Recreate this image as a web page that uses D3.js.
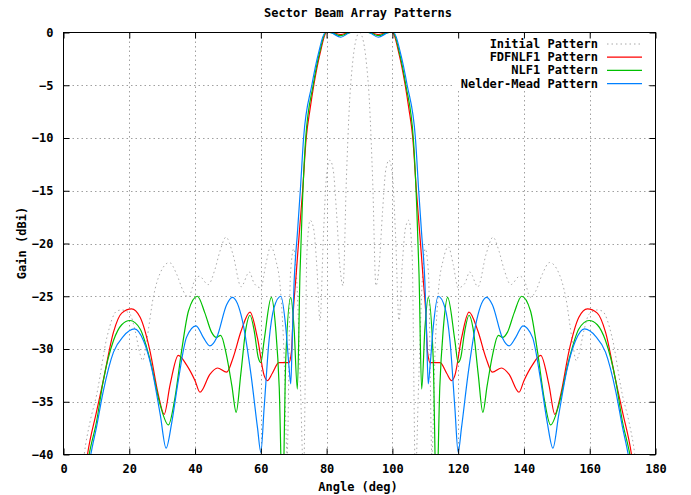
<!DOCTYPE html>
<html>
<head>
<meta charset="utf-8">
<script src="https://cdn.jsdelivr.net/npm/d3@7"></script>
<style>
  body { margin: 0; background: #fff; }
  text { font-family: "DejaVu Sans Mono", "Liberation Mono", monospace; font-weight: bold; font-size: 12px; fill: #000; }
</style>
</head>
<body>
<div id="chart"></div>
<script>
// angles (deg) and gains (dBi)
var initialAngle = [4, 6.3, 8, 10.1, 13.2, 16.2, 17.7, 20.2, 21.8, 23.3, 24.1, 25.3, 27.3, 29.4, 32.2, 34.4, 36.4, 38, 40, 41.3,
  44, 46, 47.6, 49.4, 51.5, 54, 56.5, 58, 60, 61.5, 63, 64.5, 66, 67, 68, 69, 70, 71, 72, 73,
  74, 75, 76, 77, 78, 79, 80, 81, 82, 83, 84, 85, 86, 87, 88, 89, 90,
  91, 92, 93, 94, 95, 96, 97, 98, 99, 100, 101, 102, 103, 104, 105, 106, 107, 108, 109, 110,
  111, 112, 113, 114, 115.5, 117, 118.5, 120, 122, 123.5, 126, 128.5, 130.6, 132.4, 134, 136, 138.7, 140, 142, 143.6,
  145.6, 147.8, 150.6, 152.7, 154.7, 155.9, 156.7, 158.2, 159.8, 162.3, 163.8, 166.8, 169.9, 172, 173.7, 176];
var initialGain = [-48, -40, -37, -34.3, -28.9, -26.4, -26.3, -26.7, -28.3, -30.5, -31.1, -29.2, -25.1, -22.8, -21.8, -22.9, -24.5, -25.1, -23.4, -23.1,
  -23.9, -22.5, -20.7, -19.4, -21, -24.1, -22.7, -23.8, -24.2, -22, -20.3, -21.5, -24.5, -30, -40, -23, -20.5, -24, -33, -42,
  -21, -17.8, -18.5, -22, -27.3, -19.5, -13.5, -12.1, -13, -17, -22, -24, -14, -6.5, -2.6, -0.6, 0,
  -0.6, -2.6, -6.5, -14, -24, -22, -17, -13, -12.1, -13.5, -19.5, -27.3, -22, -18.5, -17.8, -21, -42, -33, -24, -20.5,
  -23, -40, -30, -24.5, -21.5, -20.3, -22, -24.2, -23.8, -22.7, -24.1, -21, -19.4, -20.7, -22.5, -23.9, -23.1, -23.4, -25.1, -24.5,
  -22.9, -21.8, -22.8, -25.1, -29.2, -31.1, -30.5, -28.3, -26.7, -26.3, -26.4, -28.9, -34.3, -37, -40, -48];

var fdfAngle = [5, 7.3, 10, 12.1, 15.2, 17.7, 20.7, 23.3, 26.3, 28.8, 30.6, 32.4, 34.9, 37.4, 40, 41.5, 44.5, 46.8, 49.6, 51.6,
  54, 56.7, 59, 61, 62, 63.5, 65.5, 68.5, 69.3, 69.9, 70.6, 71.3, 72, 72.7, 73.8, 75, 76.1, 78, 80, 81.5,
  84.3, 87, 90, 93, 95.7, 98.5, 100, 102, 103.9, 105, 106.2, 107.3, 108, 108.7, 109.4, 110.1, 110.7, 111.5, 114.5, 116.5,
  118, 119, 121, 123.3, 126, 128.4, 130.4, 133.2, 135.5, 138.5, 140, 142.6, 145.1, 147.6, 149.4, 151.2, 153.7, 156.7, 159.3, 162.3,
  164.8, 167.9, 170, 172.7, 175];
var fdfGain = [-46, -40, -36, -33, -28.4, -26.6, -26.2, -27, -30.2, -34.3, -36.2, -33.4, -30.6, -31.5, -33, -34.1, -32.4, -31.8, -32.2, -30.8,
  -28.3, -26.5, -29, -32.5, -33, -32.3, -31.3, -31.3, -30.3, -26.3, -23.5, -20.6, -17.8, -15, -10, -7.2, -5, -2, 0, 0,
  -0.2, 0, 0, 0, -0.2, 0, 0, -2, -5, -7.2, -10, -15, -17.8, -20.6, -23.5, -26.3, -30.3, -31.3, -31.3, -32.3,
  -33, -32.5, -29, -26.5, -28.3, -30.8, -32.2, -31.8, -32.4, -34.1, -33, -31.5, -30.6, -33.4, -36.2, -34.3, -30.2, -27, -26.2, -26.6,
  -28.4, -33, -36, -40, -46];

var nlfAngle = [5, 7.8, 10.1, 12.1, 15.2, 17.7, 20.2, 23.3, 26.3, 29.4, 31.9, 33.9, 35.9, 38, 40.7, 43, 45, 46.5, 47.8, 49.5,
  51.2, 52.5, 53.9, 55.5, 56.7, 58, 59.2, 60, 61, 63.2, 64.5, 65.6, 66.6, 67.6, 69.1, 70.1, 71.1, 71.9, 72.6, 73.6,
  75.9, 77.8, 79.8, 81, 84.3, 87.3, 90,
  92.7, 95.7, 99, 100.2, 102.2, 104.1, 106.4, 107.4, 108.1, 108.9, 109.9, 110.9, 112.4, 113.4, 114.4, 115.5, 116.8, 119, 120, 120.8,
  122, 123.3, 124.5, 126.1, 127.5, 128.8, 130.5, 132.2, 133.5, 135, 137, 139.3, 142, 144.1, 146.1, 148.1, 150.6, 153.7, 156.7, 159.8,
  162.3, 164.8, 167.9, 169.9, 172.2, 175];
var nlfGain = [-46, -40, -36.8, -33, -29.2, -27.7, -27.3, -28.1, -31, -35.3, -37.2, -34.6, -30.2, -26.4, -25, -26.6, -28.4, -28.9, -28.7, -30.5,
  -33.5, -36, -32.4, -28, -26.8, -28.3, -30.8, -31.3, -29.2, -25.1, -28, -33.7, -45, -30.8, -25.1, -28, -33.8, -22.9, -16.5, -10.2,
  -5, -2, 0, 0, -0.3, 0, 0,
  0, -0.3, 0, 0, -2, -5, -10.2, -16.5, -22.9, -33.8, -28, -25.1, -30.8, -45, -33.7, -28, -25.1, -29.2, -31.3, -30.8,
  -28.3, -26.8, -28, -32.4, -36, -33.5, -30.5, -28.7, -28.9, -28.4, -26.6, -25, -26.4, -30.2, -34.6, -37.2, -35.3, -31, -28.1, -27.3,
  -27.7, -29.2, -33, -36.8, -40, -46];

var nmAngle = [5.5, 8.3, 10.1, 12.1, 15.2, 18.2, 21.6, 24.3, 26.8, 29.4, 31.2, 32.9, 34.9, 37.4, 40.3, 42.5, 44.5, 46.6, 49.6, 51.3,
  54.4, 57, 59, 60, 61, 62.5, 64, 66.1, 67.6, 68.6, 69.1, 69.6, 70.1, 71.1, 72, 73, 75.5, 77.5, 79.6, 81,
  84.3, 87.3, 90,
  92.7, 95.7, 99, 100.4, 102.5, 104.5, 107, 108, 108.9, 109.9, 110.4, 110.9, 111.4, 112.4, 113.9, 116, 117.5, 119, 120, 121,
  123, 125.6, 128.7, 130.4, 133.4, 135.5, 137.5, 139.7, 142.6, 145.1, 147.1, 148.8, 150.6, 153.2, 155.7, 158.4, 161.8, 164.8, 167.9, 169.9,
  171.7, 174.5];
var nmGain = [-46, -40, -37.3, -34, -30.3, -28.8, -28.1, -29.2, -31.8, -36.2, -39.4, -37, -33, -28.9, -27.8, -28.9, -29.7, -28.9, -25.8, -25.1,
  -27.3, -32.4, -37.5, -39.8, -35.6, -29.2, -26.1, -25, -28, -31.8, -33.3, -28.6, -23.8, -19.1, -15, -10, -5, -2, 0, 0,
  -0.45, 0, 0,
  0, -0.45, 0, 0, -2, -5, -10, -15, -19.1, -23.8, -28.6, -33.3, -31.8, -28, -25, -26.1, -29.2, -35.6, -39.8, -37.5,
  -32.4, -27.3, -25.1, -25.8, -28.9, -29.7, -28.9, -27.8, -28.9, -33, -37, -39.4, -36.2, -31.8, -29.2, -28.1, -28.8, -30.3, -34, -37.3,
  -40, -46];

var xTicks = [0, 20, 40, 60, 80, 100, 120, 140, 160, 180];
var yTicks = [0, -5, -10, -15, -20, -25, -30, -35, -40];

var series = [
  { name: "Initial Pattern", angle: initialAngle, gain: initialGain, color: "#a8a8a8", dash: "1.5,3" },
  { name: "FDFNLF1 Pattern", angle: fdfAngle, gain: fdfGain, color: "#ff0000", dash: null },
  { name: "NLF1 Pattern", angle: nlfAngle, gain: nlfGain, color: "#00c000", dash: null },
  { name: "Nelder-Mead Pattern", angle: nmAngle, gain: nmGain, color: "#0080ff", dash: null }
];

var W = 691, H = 495;
var plot = { left: 63.5, right: 655.5, top: 32.5, bottom: 454.5 };

var svg = d3.select("#chart").append("svg")
  .attr("width", W).attr("height", H)
  .style("display", "block");

svg.append("rect").attr("width", W).attr("height", H).attr("fill", "#fff");

var x = d3.scaleLinear().domain([0, 180]).range([plot.left, plot.right]);
var y = d3.scaleLinear().domain([-40, 0]).range([plot.bottom, plot.top]);

// grid
var grid = svg.append("g").attr("stroke", "#a0a0a0").attr("stroke-dasharray", "1.5,3").attr("stroke-width", 1);
grid.selectAll(".gx").data(xTicks.slice(1, -1)).enter().append("line")
  .attr("x1", function(d){ return Math.round(x(d)) + 0.5; }).attr("x2", function(d){ return Math.round(x(d)) + 0.5; })
  .attr("y1", plot.top).attr("y2", plot.bottom);
grid.selectAll(".gy").data(yTicks.slice(1, -1)).enter().append("line")
  .attr("y1", function(d){ return Math.round(y(d)) + 0.5; }).attr("y2", function(d){ return Math.round(y(d)) + 0.5; })
  .attr("x1", plot.left).attr("x2", plot.right);

// curves
svg.append("clipPath").attr("id", "clip").append("rect")
  .attr("x", plot.left).attr("y", plot.top)
  .attr("width", plot.right - plot.left).attr("height", plot.bottom - plot.top);

var line = d3.line().curve(d3.curveMonotoneX)
  .x(function(d){ return x(d[0]); })
  .y(function(d){ return y(d[1]); });

var curves = svg.append("g").attr("clip-path", "url(#clip)");
series.forEach(function(s){
  var pts = s.angle.map(function(a, i){ return [a, s.gain[i]]; });
  curves.append("path")
    .attr("d", line(pts))
    .attr("fill", "none")
    .attr("stroke", s.color)
    .attr("stroke-width", s.dash ? 1 : 1.2)
    .attr("stroke-dasharray", s.dash);
});

// legend (opaque key area)
svg.append("rect").attr("x", 455).attr("y", 37).attr("width", 192).attr("height", 52).attr("fill", "#fff");
var key = svg.append("g");
series.forEach(function(s, i){
  var ky = 44 + i * 13.2;
  key.append("text").attr("x", 598).attr("y", ky + 4).attr("text-anchor", "end").text(s.name);
  key.append("line").attr("x1", 607).attr("x2", 642).attr("y1", ky).attr("y2", ky)
    .attr("stroke", s.color).attr("stroke-width", s.dash ? 1 : 1.2).attr("stroke-dasharray", s.dash);
});

// axes: ticks on all four sides
var xAxisB = d3.axisBottom(x).tickValues(xTicks).tickSizeInner(-6).tickSizeOuter(0).tickPadding(10);
var xAxisT = d3.axisTop(x).tickValues(xTicks).tickSizeInner(-6).tickSizeOuter(0).tickFormat("");
var yAxisL = d3.axisLeft(y).tickValues(yTicks).tickSizeInner(-6).tickSizeOuter(0).tickPadding(10);
var yAxisR = d3.axisRight(y).tickValues(yTicks).tickSizeInner(-6).tickSizeOuter(0).tickFormat("");

function styleAxis(g) {
  g.select(".domain").remove();
  g.selectAll(".tick line").attr("stroke", "#000");
  g.selectAll(".tick text").attr("font-family", null).attr("font-size", null);
}
svg.append("g").attr("transform", "translate(0," + plot.bottom + ")").call(xAxisB).call(styleAxis)
  .selectAll(".tick text").attr("dy", "0.71em");
svg.append("g").attr("transform", "translate(0," + plot.top + ")").call(xAxisT).call(styleAxis);
svg.append("g").attr("transform", "translate(" + plot.left + ",0)").call(yAxisL).call(styleAxis);
svg.append("g").attr("transform", "translate(" + plot.right + ",0)").call(yAxisR).call(styleAxis);

// border
svg.append("rect")
  .attr("x", plot.left).attr("y", plot.top)
  .attr("width", plot.right - plot.left).attr("height", plot.bottom - plot.top)
  .attr("fill", "none").attr("stroke", "#000").attr("stroke-width", 1);

// titles
svg.append("text").attr("x", 358).attr("y", 17).attr("text-anchor", "middle").text("Sector Beam Array Patterns");
svg.append("text").attr("x", 358).attr("y", 491).attr("text-anchor", "middle").text("Angle (deg)");
svg.append("text").attr("transform", "translate(26,243) rotate(-90)").attr("text-anchor", "middle").text("Gain (dBi)");
</script>
</body>
</html>
